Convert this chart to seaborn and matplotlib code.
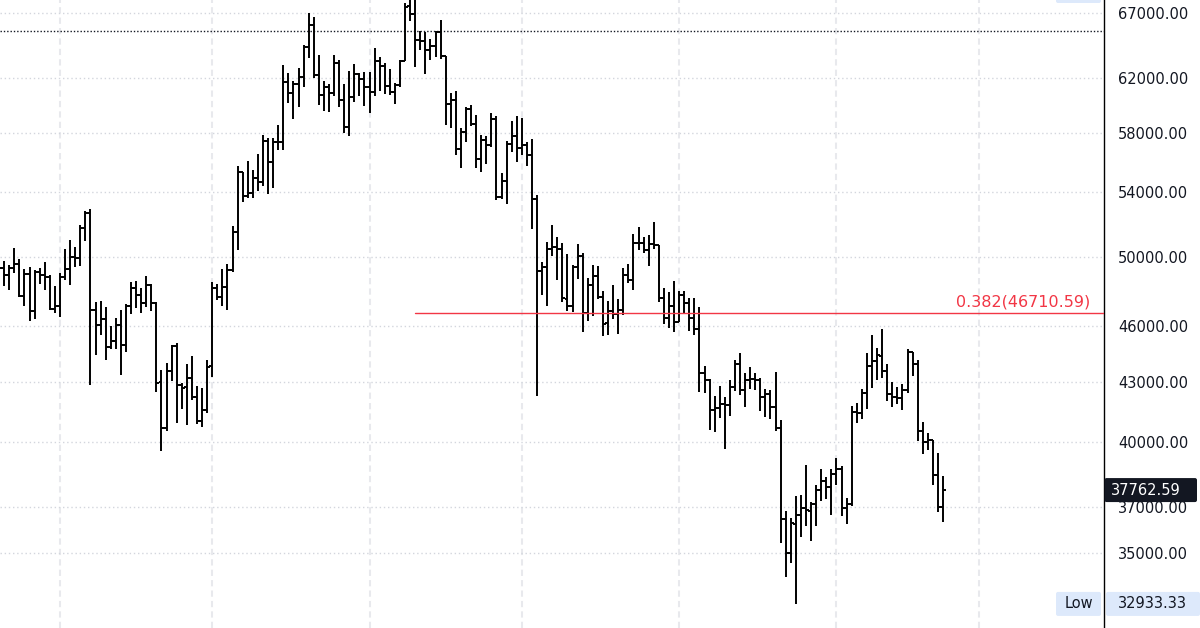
import numpy as np
import pandas as pd
import matplotlib
matplotlib.use("Agg")
import matplotlib.pyplot as plt
import matplotlib.dates as mdates
from matplotlib.ticker import FixedLocator, FuncFormatter, NullLocator
from matplotlib.patches import FancyBboxPatch
from matplotlib.transforms import IdentityTransform
import seaborn as sns

# ---------------- data (daily OHLC, first bar 2021-08-20) ----------------
START = "2021-08-20"

opens = [
    46768, 49339, 48905, 49321, 49546, 47706, 48960, 46843, 49069, 48896, 48768, 46970,
    47100, 48810, 49246, 49999, 49915, 51756, 52666, 46868, 46048, 46395,
    44843, 45173, 46025, 44940, 47103, 48121, 47737, 47299, 48315, 47260,
    43012, 40693, 43560, 44895, 42840, 42721, 43208, 42236, 41026, 41565,
    43820, 48142, 47635, 48200, 49225, 51472, 55315, 53785, 53955, 54949,
    54659, 57471, 56006, 57370, 57347, 61672, 60875, 61529, 62005, 64280,
    66002, 62193, 60688, 61286, 60853, 63078, 60329, 58413, 60575, 62253, 61859,
    61300, 60911, 63254, 62897, 61396, 60940, 61470, 63273, 67526, 66947,
    64883, 64775, 64123, 64380, 65520, 63606, 60059, 60345, 56892, 58058,
    59708, 58622, 56247, 57541, 57139, 58960, 53724, 54721, 57274, 57776,
    56951, 57184, 56485, 53602, 49152, 49397, 50441, 50589, 50471, 47535,
    47140, 49389, 50054, 46703, 48336, 48864, 47633, 46134, 46835, 46681,
    46915, 48897, 48588, 50838, 50819, 50400, 50775, 50702, 47543, 46464, 47120,
    46216, 47722, 47286, 46446, 45832, 43451, 43082, 41567, 41679, 41864,
    41822, 42735, 43950, 42591, 43099, 43172, 43114, 42250, 42375, 41744,
    40699, 36471, 35030, 36275, 36654, 36954, 36841, 37128, 37780, 38166, 37918,
    38498, 38743, 36945, 37150, 41501, 41441, 42412, 43841, 44089, 44388,
    43566, 42408, 42237, 42197, 42586, 44578, 43938, 40553, 40003, 40123,
    38431, 37008,
]
highs = [
    49382, 49757, 49500, 50500, 49875, 49227, 49380, 49183, 49307, 49661, 48927, 48249,
    49000, 50450, 51000, 50558, 51900, 52780, 52920, 47340, 47399, 47033,
    45987, 46460, 46880, 47250, 48500, 48557, 48150, 48843, 48372, 47358,
    43639, 44000, 44978, 45080, 42966, 43919, 44350, 42787, 42690, 44141,
    48495, 48360, 49228, 49536, 51887, 55750, 55332, 56100, 55490, 56561,
    57839, 57680, 57687, 58532, 62933, 62350, 61718, 62695, 64486, 67000,
    66639, 63732, 61747, 61500, 63711, 63293, 61496, 62499, 62980, 62359, 62405,
    62437, 64270, 63516, 63123, 62637, 61560, 63286, 67789, 68530, 69000,
    65600, 65450, 64916, 65550, 66401, 63620, 60823, 60977, 58320, 59846,
    60000, 59266, 57875, 57804, 59399, 59186, 55280, 57445, 58865, 59176,
    59053, 57375, 57600, 53859, 49699, 50891, 51936, 51200, 50797, 50125,
    49485, 50777, 50189, 48700, 49500, 49436, 47995, 47392, 48300, 47537,
    49328, 49576, 51375, 51810, 51156, 51280, 52088, 50704, 48140, 47900, 48548,
    47954, 47990, 47570, 47557, 47070, 43816, 43145, 42300, 42786, 42248,
    43100, 44135, 44500, 43447, 43800, 43476, 43200, 42664, 42579, 43505,
    41100, 36835, 36500, 37500, 37545, 38917, 37234, 38000, 38720, 38359, 38744,
    39265, 38855, 37387, 41772, 41939, 42656, 44500, 45492, 44799, 45821,
    43921, 42999, 42761, 42876, 44751, 44578, 44164, 40959, 40444, 40123,
    39494, 38429,
]
lows = [
    46644, 48274, 48000, 49028, 47600, 47137, 46250, 46365, 48370, 48000, 46900, 46700,
    46512, 48584, 48316, 49370, 49450, 50969, 42843, 44412, 45513, 44132,
    44722, 44742, 43370, 44594, 46674, 47021, 46699, 47033, 46829, 42500,
    39600, 40565, 43069, 40936, 41646, 40829, 42098, 40888, 40752, 41410,
    43283, 47430, 47088, 46891, 49057, 50382, 53357, 53617, 53661, 54080,
    54415, 53879, 54300, 56818, 56850, 60150, 58963, 59844, 61322, 63482,
    62000, 60000, 59562, 59510, 60650, 59817, 58000, 57820, 60174, 60673, 59945,
    59405, 60624, 61000, 60799, 60721, 60050, 61322, 63273, 66382, 62822,
    64100, 62278, 63303, 63577, 63400, 58574, 58373, 56474, 55600, 57353,
    58470, 55610, 55317, 55888, 57000, 53500, 53610, 53256, 56666, 56000,
    56458, 55778, 51680, 42300, 47727, 47100, 50039, 48600, 47320, 46852,
    46751, 48638, 45672, 46290, 46547, 47511, 45456, 45500, 46406, 45558,
    46630, 48421, 48050, 50384, 50188, 49412, 50449, 47313, 46096, 45900, 45678,
    46208, 46654, 45696, 45500, 42500, 42430, 40610, 40501, 41200, 39650,
    41268, 42528, 42311, 41725, 42653, 42581, 41540, 41250, 41138, 40554,
    35440, 34008, 34601, 32933.33, 35701, 36155, 35507, 36155, 37268, 37351, 36632,
    38000, 36586, 36250, 37052, 40956, 41117, 41645, 42666, 43117, 43188,
    42008, 41748, 41870, 41570, 42427, 43310, 40073, 39450, 39640, 38000,
    36800, 36350,
]
closes = [
    49339, 48905, 49321, 49546, 47706, 48960, 46843, 49069, 48896, 48768, 46970, 47100,
    48810, 49246, 49999, 49915, 51756, 52663, 46864, 46048, 46395, 44851,
    45173, 46026, 44940, 47111, 48122, 47737, 47300, 48315, 47260, 42970,
    40693, 43574, 44895, 42840, 42716, 43208, 42235, 41034, 41564, 43791,
    48142, 47635, 48200, 49225, 51472, 55315, 53785, 53951, 54949, 54659,
    57471, 56005, 57367, 57347, 61672, 60875, 61528, 62010, 64280, 66002,
    62193, 60688, 61286, 60852, 63078, 60328, 58413, 60575, 62253, 61859, 61300,
    60911, 63219, 62896, 61395, 60937, 61470, 63273, 67525, 66947, 64882,
    64774, 64122, 64381, 65520, 63607, 60058, 60344, 56892, 58052, 59708,
    58622, 56247, 57541, 57138, 58960, 53726, 54721, 57274, 57776, 56950,
    57184, 56480, 53602, 49152, 49396, 50441, 50588, 50471, 47545, 47140,
    49389, 50053, 46702, 48343, 48864, 47632, 46131, 46834, 46681, 46915,
    48897, 48588, 50838, 50820, 50400, 50775, 50701, 47543, 46464, 47120, 46216,
    47722, 47286, 46446, 45832, 43451, 43082, 41566, 41679, 41864, 41822,
    42736, 43949, 42591, 43099, 43177, 43113, 42250, 42375, 41744, 40680,
    36457, 35030, 36276, 36654, 36954, 36852, 37138, 37784, 38166, 37917, 38498,
    38744, 36952, 37154, 41501, 41441, 42413, 43841, 44089, 44395, 43566,
    42407, 42244, 42197, 42587, 44576, 43937, 40551, 40003, 40123, 38432,
    37017, 37762.59,
]

price_ticks = [35000, 37000, 40000, 43000, 46000, 50000, 54000, 58000, 62000, 67000]
fib_level = 46710.59
fib_label = "0.382(46710.59)"
fib_start = "2021-11-10"
dotted_level = 65600
last_price = 37762.59
low_price = 32933.33
low_label = "Low"

# ---------------- styling ----------------
sns.set_theme(style="white")
plt.rcParams["font.family"] = ["DejaVu Sans"]

W, H = 1200, 628
fig = plt.figure(figsize=(W / 100, H / 100), dpi=100, facecolor="white")
ax = fig.add_axes([0, 0, 1104 / W, 1])
ax.set_facecolor("white")
ax.set_yscale("log")

dates = pd.date_range(START, periods=len(opens), freq="D")
xnum = mdates.date2num(dates)

# OHLC bars as segments, drawn by seaborn
tick = 0.55
rows = []
seg = 0
for x, o, h, l, c in zip(xnum, opens, highs, lows, closes):
    rows += [(x, l, seg), (x, h, seg)]
    seg += 1
    rows += [(x - tick, o, seg), (x, o, seg)]
    seg += 1
    rows += [(x, c, seg), (x + tick, c, seg)]
    seg += 1
df = pd.DataFrame(rows, columns=["x", "y", "seg"])
sns.lineplot(data=df, x="x", y="y", units="seg", estimator=None, sort=False,
             color="#000000", linewidth=1.4, ax=ax, legend=False,
             solid_capstyle="butt", zorder=2)

ymin, ymax = 31994, 68055
ax.set_ylim(ymin, ymax)
x_left = xnum[0] + 0.18
x_right = x_left + 1104 / 5.075
ax.set_xlim(x_left, x_right)
ax.set_xlabel("")
ax.set_ylabel("")

# grids
ax.set_axisbelow(True)
ax.xaxis.set_major_locator(mdates.MonthLocator())
ax.grid(axis="x", color="#e8e9ed", linestyle=(0, (3, 2)), linewidth=1.5)
ax.yaxis.set_major_locator(FixedLocator(price_ticks))
ax.yaxis.set_minor_locator(NullLocator())
ax.grid(axis="y", color="#d3d6dd", linestyle=(0, (1, 2)), linewidth=1.0)
ax.tick_params(axis="x", labelbottom=False, length=0)

ax.yaxis.tick_right()
ax.yaxis.set_major_formatter(FuncFormatter(lambda v, p: f"{v:.2f}"))
ax.tick_params(axis="y", length=0, pad=10, labelsize=10.5, labelcolor="#131722")

for s in ["left", "top", "bottom"]:
    ax.spines[s].set_visible(False)
ax.spines["right"].set_visible(True)
ax.spines["right"].set_color("#000000")
ax.spines["right"].set_linewidth(1.0)

# horizontal dotted black line
ax.axhline(dotted_level, color="#131722", linestyle=(0, (1, 1.4)), linewidth=1.0, zorder=1.5)

# fib line + label
fx = mdates.date2num(pd.Timestamp(fib_start))
ax.plot([fx, x_right], [fib_level, fib_level], color="#f23645", linewidth=1.0, zorder=3)
ax.annotate(fib_label, xy=(1090 / 1104, fib_level), xycoords=("axes fraction", "data"),
            xytext=(0, 2.5), textcoords="offset points", ha="right", va="bottom",
            color="#f23645", fontsize=11.5, zorder=4)

# ---------------- right-side labels ----------------
def ypix(p):
    frac = (np.log(p) - np.log(ymin)) / (np.log(ymax) - np.log(ymin))
    return frac * H

def add_box(x0, x1, yc, h, color):
    patch = FancyBboxPatch((x0, yc - h / 2), x1 - x0, h,
                           boxstyle="round,pad=0,rounding_size=2",
                           transform=IdentityTransform(), fc=color, ec="none", zorder=5)
    fig.add_artist(patch)
    patch.set_transform(IdentityTransform())

yc = ypix(last_price)
add_box(1104.5, 1197, yc, 24, "#131722")
fig.text(1111 / W, yc / H, f"{last_price:.2f}", color="white", fontsize=10.5,
         ha="left", va="center", zorder=6)

yl = ypix(low_price)
add_box(1056, 1101, yl, 24, "#dde9fb")
add_box(1106, 1200, yl, 24, "#dde9fb")
fig.text(1078.5 / W, yl / H, low_label, color="#131722", fontsize=10.5,
         ha="center", va="center", zorder=6)
fig.text(1118 / W, yl / H, f"{low_price:.2f}", color="#131722", fontsize=10.5,
         ha="left", va="center", zorder=6)

# partially visible box at the very top
add_box(1056, 1101, H + 9, 24, "#dde9fb")

fig.savefig("out.png", dpi=100, facecolor="white")
